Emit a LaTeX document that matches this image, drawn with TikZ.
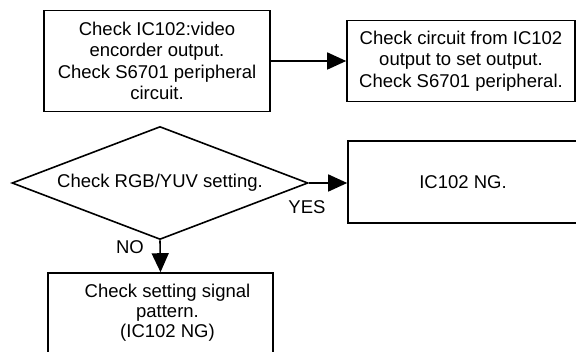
\documentclass[tikz,border=0pt]{standalone}
\usepackage{fontspec}
\setmainfont{Liberation Sans}
\usetikzlibrary{shapes.geometric,arrows.meta}
\begin{document}
\begin{tikzpicture}[x=1pt,y=-1pt,
  every node/.style={font=\fontsize{18.5}{21.5}\selectfont},
  box/.style={draw, rectangle, line width=1.6pt, align=center, inner sep=0pt},
  decision/.style={draw, diamond, line width=1.6pt, aspect=2.62, inner sep=0pt, minimum width=296pt, minimum height=113pt},
  arr/.style={line width=1.6pt, -{Triangle[length=19pt,width=17pt]}},
  lbl/.style={inner sep=0pt}
]
\useasboundingbox (0,0) rectangle (576,352);
\node[box, minimum width=226pt, minimum height=101pt] (b1) at (157,61)
  {Check IC102:video\\encorder output.\\Check S6701 peripheral\\circuit.};
\node[box, minimum width=228pt, minimum height=81pt] (b2) at (461,61)
  {Check circuit from IC102\\output to set output.\\Check S6701 peripheral.};
\node[decision] (d) at (160,183) {Check RGB/YUV setting.};
\node[box, minimum width=230pt, minimum height=82pt] (b3) at (463,182) {IC102 NG.};
\node[box, minimum width=225pt, minimum height=90pt] (b4) at (160.5,318) {};
\node[lbl, align=center, font=\fontsize{18.5}{20}\selectfont] (b4t) at (167.5,313)
  {Check setting signal\\pattern.\\(IC102 NG)};
\draw[arr] (b1) -- (b2);
\draw[arr] (d.east) -- (b3.west |- d.east);
\draw[arr] (d.south) -- (b4.north);
\node[lbl] (yes) at (307,207) {YES};
\node[lbl] (no) at (130,247) {NO};
\end{tikzpicture}
\end{document}
